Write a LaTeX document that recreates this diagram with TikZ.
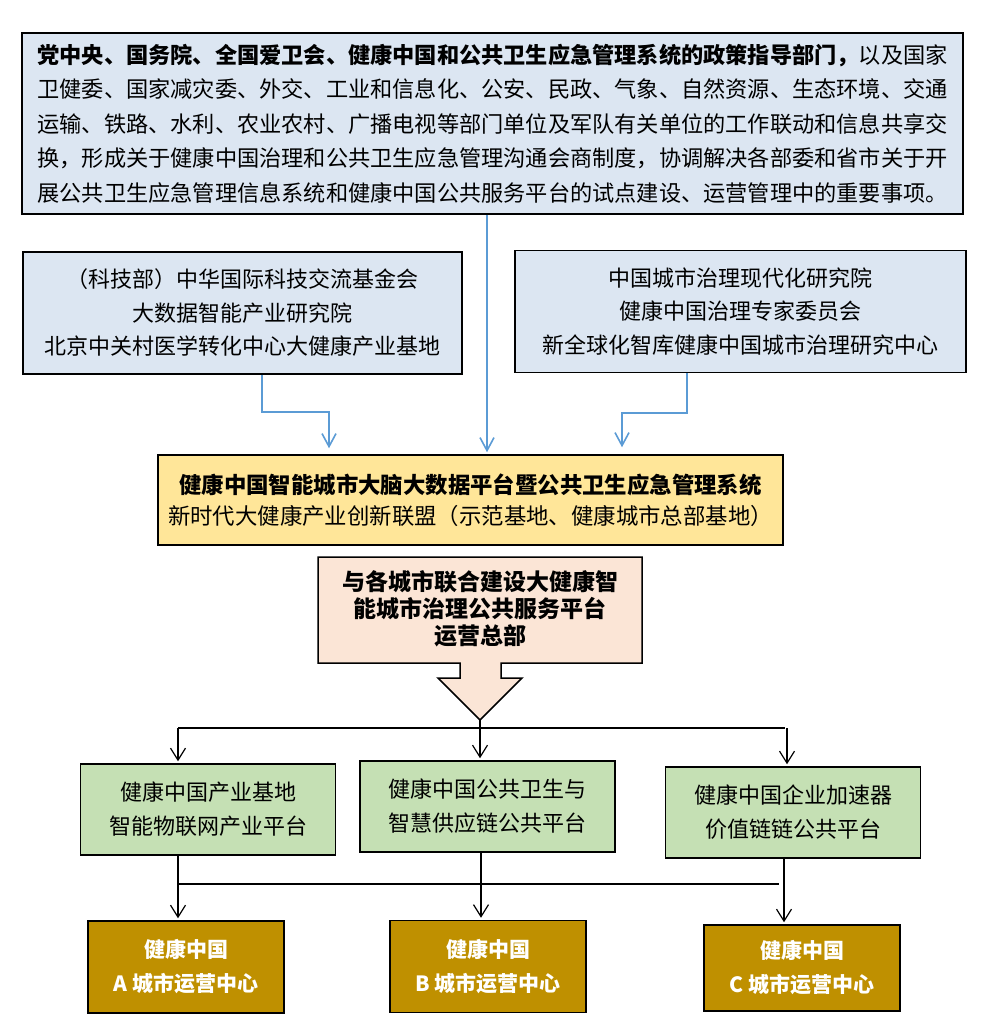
\documentclass[tikz,border=0pt]{standalone}
\usepackage{fontspec}
\setmainfont{Noto Sans CJK SC}
\usetikzlibrary{arrows.meta}

\definecolor{paleblue}{HTML}{DCE6F2}
\definecolor{paleyellow}{HTML}{FFE699}
\definecolor{palepeach}{HTML}{FBE5D6}
\definecolor{palegreen}{HTML}{C5E0B4}
\definecolor{darkgold}{HTML}{BF9000}
\definecolor{skyline}{HTML}{5B9BD5}

\begin{document}
\begin{tikzpicture}[x=1pt, y=-1pt,
  % Node styles
  box/.style={rectangle, draw=black, line width=1.5pt, align=center, inner sep=0pt, font=\fontsize{22}{33.5}\selectfont},
  policy/.style={box, fill=paleblue, minimum width=941pt, minimum height=181pt, align=left, font=\fontsize{22.2}{34.5}\selectfont},
  partner/.style={box, fill=paleblue, minimum height=122pt},
  platform/.style={box, fill=paleyellow, minimum width=625pt, minimum height=90pt, font=\fontsize{22.4}{31}\selectfont},
  service/.style={box, fill=palegreen, minimum width=255pt, minimum height=91pt, font=\fontsize{22}{34}\selectfont},
  cityhub/.style={box, fill=darkgold, text=white, minimum width=196pt, minimum height=92pt, font=\bfseries\fontsize{21}{34}\selectfont},
  hqshape/.style={draw=black, line width=1.5pt, fill=palepeach, line join=miter},
  % Edge styles
  feed/.style={-{Straight Barb[length=13pt, width=14pt]}, skyline, line width=1.6pt, shorten >=2pt},
  branch/.style={-{Straight Barb[length=12pt, width=15pt]}, black, line width=1.2pt, shorten >=2pt},
  bus/.style={black, line width=1.8pt},
]
\useasboundingbox (0,0) rectangle (982,1033);

% === TOP: policy departments ===
\node[policy] (policy) at (492.5,123.5) {%
{\bfseries 党中央、国务院、全国爱卫会、健康中国和公共卫生应急管理系统的政策指导部门，}以及国家\\
卫健委、国家减灾委、外交、工业和信息化、公安、民政、气象、自然资源、生态环境、交通\\
运输、铁路、水利、农业农村、广播电视等部门单位及军队有关单位的工作联动和信息共享交\\
换，形成关于健康中国治理和公共卫生应急管理沟通会商制度，协调解决各部委和省市关于开\\
展公共卫生应急管理信息系统和健康中国公共服务平台的试点建设、运营管理中的重要事项。};

% === SECOND ROW: partners ===
\node[partner, minimum width=439pt] (sponsors) at (242.5,313)
  {（科技部）中华国际科技交流基金会\\大数据智能产业研究院\\北京中关村医学转化中心大健康产业基地};
\node[partner, minimum width=451pt] (institutes) at (740.5,311.5)
  {中国城市治理现代化研究院\\健康中国治理专家委员会\\新全球化智库健康中国城市治理研究中心};

% === CENTRE: platform ===
\node[platform] (platform) at (470.5,500)
  {{\bfseries 健康中国智能城市大脑大数据平台暨公共卫生应急管理系统}\\新时代大健康产业创新联盟（示范基地、健康城市总部基地）};

% === HEADQUARTERS (down arrow callout) ===
\draw[hqshape] (318,557) -- (642,557) -- (642,663) -- (501,663) -- (501,678) -- (522,678)
  -- (480,720) -- (438,678) -- (460,678) -- (460,663) -- (318,663) -- cycle;
\node[align=center, font=\bfseries\fontsize{23}{27}\selectfont] (hq) at (480,609)
  {与各城市联合建设大健康智\\能城市治理公共服务平台\\运营总部};
\coordinate (hqtip) at (480,720);

% === SERVICE PLATFORMS ===
\node[service] (g1) at (208,809.5)   {健康中国产业基地\\智能物联网产业平台};
\node[service] (g2) at (487.5,806.5) {健康中国公共卫生与\\智慧供应链公共平台};
\node[service] (g3) at (793,812.5)   {健康中国企业加速器\\价值链链公共平台};

% === CITY OPERATION CENTRES ===
\node[cityhub] (cityA) at (186,967)   {健康中国\\A 城市运营中心};
\node[cityhub] (cityB) at (488,966.5) {健康中国\\B 城市运营中心};
\node[cityhub, minimum height=86pt] (cityC) at (802,968) {健康中国\\C 城市运营中心};

% ============================================================
% 1. BLUE FEEDS into the platform
% ============================================================
\coordinate (kL) at (262,412);
\coordinate (inL) at (329,0);
\coordinate (inC) at (487,0);
\coordinate (kR) at (687,413);
\coordinate (inR) at (622,0);
\draw[feed, shorten >=6pt] (sponsors.south -| kL) -- (kL) -| (platform.north -| inL);
\draw[feed] (policy.south -| inC) -- (platform.north -| inC);
\draw[feed, shorten >=7pt] (institutes.south -| kR) -- (kR) -| (platform.north -| inR);

% ============================================================
% 2. HEADQUARTERS to service platforms
% ============================================================
\coordinate (busL) at (178,728);
\coordinate (busR) at (787,728);
\draw[branch, line width=1.2pt, -] (busL) -- (busR);
\draw[branch] (hqtip) -- (g2.north -| hqtip);
\draw[branch] (busL) -- (busL |- g1.north);
\draw[branch] (busR) -- (busR |- g3.north);

% ============================================================
% 3. SERVICE PLATFORMS to city centres
% ============================================================
\coordinate (jA) at (178,884);
\coordinate (jB) at (481,884);
\coordinate (jC) at (784,884);
\coordinate (jE) at (779,884);
\draw[bus] (jA) -- (jE);
\draw[branch] (g1.south -| jA) -- (jA |- cityA.north);
\draw[branch] (g2.south -| jB) -- (jB |- cityB.north);
\draw[branch] (g3.south -| jC) -- (jC |- cityC.north);

\end{tikzpicture}
\end{document}
